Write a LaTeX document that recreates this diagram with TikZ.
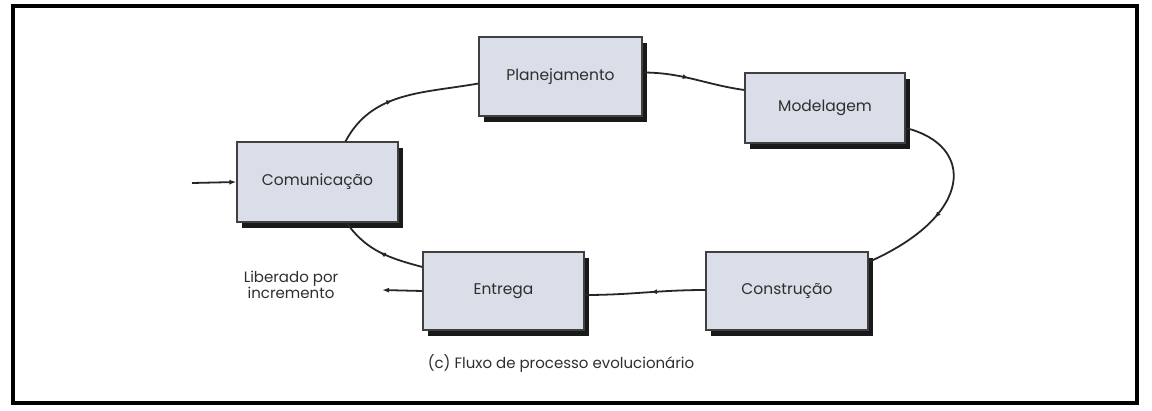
\documentclass[tikz,border=0pt]{standalone}
\usepackage{fontspec}
\setmainfont{Poppins}
\usetikzlibrary{arrows.meta,shadows,decorations.markings,calc}
\definecolor{boxfill}{HTML}{D9DEE8}
\definecolor{txt}{HTML}{2E2E2E}
\begin{document}
\begin{tikzpicture}[x=1pt,y=-1pt,
  stage/.style={draw=black!75, line width=1.2pt, fill=boxfill, text=txt,
    font=\fontsize{15.5}{18}\selectfont, inner sep=0pt,
    drop shadow={shadow xshift=5pt, shadow yshift=-6pt, fill=black, opacity=0.9}},
  flow/.style={line width=1.8pt, draw=black!85},
  midarrow/.style={postaction={decorate}, decoration={markings,
    mark=at position #1 with {\arrow{Latex[length=6pt,width=5pt]}}}},
  lbl/.style={text=txt, font=\fontsize{15}{17}\selectfont, align=center}
]
\useasboundingbox (0,0) rectangle (1152,410);
\draw[line width=4pt] (13,5.5) rectangle (1137,403);

\node[stage, minimum width=163pt, minimum height=79pt] (plan) at (560.5,76.5) {Planejamento};
\node[stage, minimum width=160pt, minimum height=70pt] (mod) at (825,108) {Modelagem};
\node[stage, minimum width=161pt, minimum height=80pt] (com) at (317.5,182) {Comunicação};
\node[stage, minimum width=161pt, minimum height=78pt] (ent) at (503.5,291) {Entrega};
\node[stage, minimum width=162pt, minimum height=78pt] (con) at (787,291) {Construção};

\coordinate (in) at (192,183);
\coordinate (out) at (382,290);

\draw[flow, -{Latex[length=7pt,width=5pt]}] (in) -- (com.west);
\draw[flow, -{Latex[length=7pt,width=5pt]}] (ent.west) -- (out);

\draw[flow, midarrow=0.42] ([xshift=28pt]com.north) to[out=62, in=190] ([yshift=-7pt]plan.west);
\draw[flow, midarrow=0.45] ([yshift=4pt]plan.east) to[out=0, in=172] ([yshift=18pt]mod.west);
\draw[flow, midarrow=0.6] ([yshift=-20pt]mod.east) .. controls (975,145) and (975,215) .. ([yshift=29pt]con.east);
\draw[flow, midarrow=0.45] ([yshift=1pt]con.west) to[out=180, in=0] ([yshift=-4pt]ent.east);
\draw[flow, midarrow=0.5] ([yshift=24pt]ent.west) to[out=165, in=-55] ([xshift=29pt]com.south);

\node[lbl] (rel) at (291,285) {Liberado por\\[-1pt]incremento};
\node[lbl] (cap) at (561,363) {(c) Fluxo de processo evolucionário};
\end{tikzpicture}
\end{document}
